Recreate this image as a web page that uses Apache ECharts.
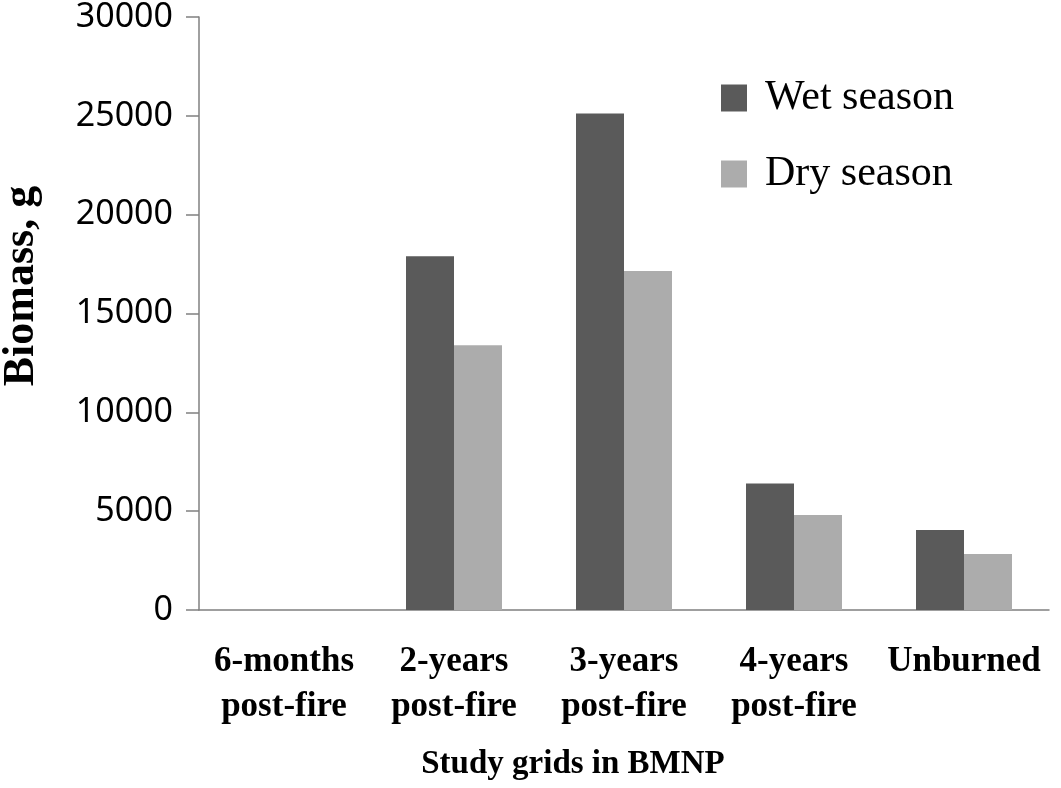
<!DOCTYPE html>
<html>
<head>
<meta charset="utf-8">
<script src="https://cdn.jsdelivr.net/npm/echarts@6/dist/echarts.min.js"></script>
<style>
html,body{margin:0;padding:0;background:#fff;}
#chart{width:1061px;height:788px;}
</style>
</head>
<body>
<div id="chart"></div>
<script>
var categories = ['6-months\npost-fire', '2-years\npost-fire', '3-years\npost-fire', '4-years\npost-fire', 'Unburned'];
var wetSeason = [0, 17900, 25120, 6400, 4050];
var drySeason = [0, 13400, 17150, 4800, 2830];
var yTicks = { min: 0, max: 30000, interval: 5000 };

var chart = echarts.init(document.getElementById('chart'));
chart.setOption({
  animation: false,
  backgroundColor: '#ffffff',
  grid: { left: 199, right: 12, top: 17, bottom: 178, containLabel: false },
  legend: {
    orient: 'vertical',
    left: 716,
    top: 72,
    itemWidth: 26,
    itemHeight: 27,
    itemGap: 34,
    icon: 'rect',
    textStyle: { fontFamily: 'Liberation Serif', fontSize: 42, color: '#000', lineHeight: 40, padding: [0, 0, 0, 13] },
    data: ['Wet season', 'Dry season']
  },
  xAxis: {
    type: 'category',
    data: categories,
    axisLine: { lineStyle: { color: '#808080', width: 1.5 } },
    axisTick: { alignWithLabel: false, length: 9, lineStyle: { color: '#808080', width: 1.5 } },
    axisLabel: { fontFamily: 'Liberation Serif', fontSize: 35, fontWeight: 'bold', color: '#000', lineHeight: 45, margin: 29, interval: 0 }
  },
  yAxis: {
    type: 'value',
    min: yTicks.min,
    max: yTicks.max,
    interval: yTicks.interval,
    axisLine: { show: true, lineStyle: { color: '#808080', width: 1.5 } },
    axisTick: { show: true, inside: false, length: 13, lineStyle: { color: '#808080', width: 1.5 } },
    splitLine: { show: false },
    axisLabel: { fontFamily: 'Noto Sans', fontSize: 34, color: '#000', margin: 26, formatter: function (v) { return String(v); } }
  },
  graphic: [
    { type: 'text', x: 573, y: 764, style: { text: 'Study grids in BMNP', font: 'bold 33px "Liberation Serif"', fill: '#000', textAlign: 'center', textVerticalAlign: 'middle' } },
    { type: 'text', rotation: Math.PI / 2, x: 22, y: 286, style: { text: 'Biomass, g', font: 'bold 44px "Liberation Serif"', fill: '#000', textAlign: 'center', textVerticalAlign: 'middle' } }
  ],
  series: [
    { name: 'Wet season', type: 'bar', data: wetSeason, barWidth: 48, barGap: '0%',
      itemStyle: { color: '#5a5a5a' } },
    { name: 'Dry season', type: 'bar', data: drySeason, barWidth: 48, barGap: '0%',
      itemStyle: { color: '#acacac' } }
  ]
});
</script>
</body>
</html>
